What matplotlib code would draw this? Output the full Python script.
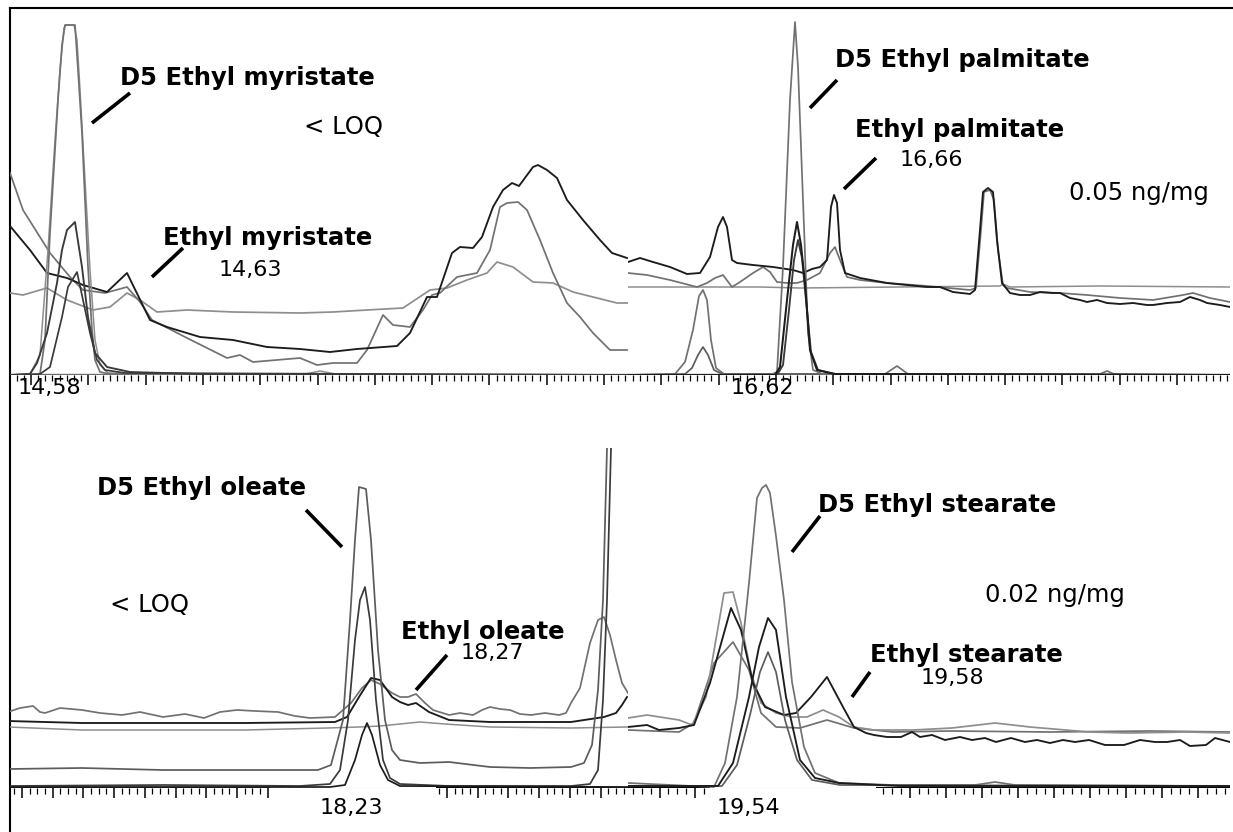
import numpy as np
import matplotlib
matplotlib.use('Agg')
import matplotlib.pyplot as plt
from matplotlib.ticker import FixedLocator, NullFormatter

# ── DATA (retention time in min, abundance in arbitrary units) ────────────────
# top-left: ethyl myristate window
TL_D5_BIG_T = [14.520, 14.540, 14.550, 14.555, 14.560, 14.565, 14.568, 14.572, 14.575, 14.585,
               14.588, 14.592, 14.595, 14.598, 14.602, 14.605, 14.610, 14.620, 14.700, 15.138]
TL_D5_BIG_A = [0, 0, 1, 35, 142, 225, 275, 330, 350, 350, 305, 242, 175, 108, 45, 15, 3, 1, 0, 0]
TL_D5_BIG2_T = [14.520, 14.540, 14.550, 14.558, 14.565, 14.570, 14.574, 14.576, 14.584, 14.587,
                14.590, 14.595, 14.600, 14.605, 14.610, 14.618, 14.700, 15.138]
TL_D5_BIG2_A = [0, 1, 20, 125, 235, 305, 347, 350, 350, 335, 285, 195, 105, 35, 10, 2, 0, 0]
TL_D5_MID_T = [14.520, 14.540, 14.547, 14.557, 14.567, 14.572, 14.577, 14.585, 14.592, 14.598,
               14.605, 14.617, 14.640, 14.710, 15.138]
TL_D5_MID_A = [0, 1, 12, 42, 92, 125, 145, 153, 108, 58, 22, 8, 3, 1, 0]
TL_D5_SMALL_T = [14.520, 14.550, 14.560, 14.572, 14.578, 14.587, 14.593, 14.600, 14.607, 14.615, 14.635, 15.138]
TL_D5_SMALL_A = [0, 1, 8, 58, 88, 103, 75, 42, 15, 5, 2, 0]
TL_BASE_T = [14.520, 14.810, 14.820, 14.830, 14.840, 14.850, 15.138]
TL_BASE_A = [0, 0, 2, 4, 2, 0, 0]
TL_BLACK_T = [14.520, 14.540, 14.557, 14.577, 14.593, 14.617, 14.637, 14.660, 14.677, 14.710,
              14.743, 14.777, 14.810, 14.840, 14.867, 14.907, 14.920, 14.937, 14.947, 14.962,
              14.970, 14.983, 14.992, 15.003, 15.013, 15.022, 15.029, 15.043, 15.048, 15.057,
              15.067, 15.077, 15.093, 15.110, 15.122, 15.137]
TL_BLACK_A = [149, 125, 102, 97, 90, 83, 102, 55, 48, 38, 35, 28, 26, 23, 26, 29, 42, 78, 78, 122,
              128, 127, 138, 168, 185, 192, 189, 208, 210, 205, 197, 175, 155, 135, 122, 117]
TL_GRAY_T = [14.520, 14.533, 14.560, 14.580, 14.593, 14.615, 14.637, 14.650, 14.662, 14.697,
             14.737, 14.750, 14.763, 14.810, 14.827, 14.843, 14.867, 14.877, 14.893, 14.903,
             14.920, 14.933, 14.942, 14.950, 14.967, 14.987, 15.000, 15.010, 15.017, 15.028,
             15.037, 15.050, 15.063, 15.077, 15.090, 15.103, 15.120, 15.137]
TL_GRAY_A = [202, 165, 122, 98, 85, 82, 88, 73, 55, 37, 17, 20, 13, 17, 10, 12, 12, 25, 60, 50,
             48, 65, 80, 82, 98, 102, 125, 168, 172, 173, 165, 135, 102, 72, 58, 42, 25, 25]
TL_LIGHT_T = [14.520, 14.533, 14.557, 14.577, 14.603, 14.620, 14.637, 14.650, 14.667, 14.697,
              14.743, 14.810, 14.843, 14.877, 14.913, 14.940, 14.957, 14.977, 14.997, 15.007,
              15.023, 15.043, 15.063, 15.083, 15.103, 15.127, 15.138]
TL_LIGHT_A = [82, 80, 87, 75, 65, 68, 82, 75, 63, 65, 63, 62, 63, 65, 67, 85, 87, 95, 102, 113,
              108, 93, 92, 83, 78, 72, 72]

# top-right: ethyl palmitate window
TR_BLACK_T = [16.451, 16.463, 16.476, 16.493, 16.510, 16.523, 16.533, 16.541, 16.546, 16.550,
              16.555, 16.560, 16.576, 16.596, 16.616, 16.626, 16.635, 16.643, 16.650, 16.654,
              16.657, 16.660, 16.663, 16.668, 16.683, 16.710, 16.730, 16.750, 16.763, 16.776,
              16.793, 16.798, 16.803, 16.806, 16.811, 16.816, 16.820, 16.825, 16.833, 16.843,
              16.853, 16.863, 16.876, 16.883, 16.893, 16.903, 16.910, 16.920, 16.930, 16.943,
              16.956, 16.970, 16.976, 16.990, 17.003, 17.013, 17.023, 17.030, 17.043, 17.053]
TR_BLACK_A = [113, 117, 113, 108, 101, 102, 118, 148, 158, 148, 115, 112, 110, 108, 105, 102, 106, 108, 115, 168,
              180, 172, 125, 102, 97, 92, 90, 88, 88, 83, 81, 85, 145, 183, 187, 183, 135, 92, 82, 80,
              80, 83, 82, 82, 77, 75, 73, 75, 72, 71, 72, 70, 70, 72, 73, 78, 75, 72, 70, 68]
TR_GRAY_T = [16.451, 16.470, 16.493, 16.520, 16.530, 16.538, 16.546, 16.555, 16.563, 16.576,
             16.586, 16.593, 16.600, 16.610, 16.620, 16.630, 16.643, 16.653, 16.658, 16.663,
             16.670, 16.683, 16.710, 16.750, 16.793, 16.799, 16.804, 16.807, 16.813, 16.817,
             16.821, 16.826, 16.830, 16.853, 16.883, 16.910, 16.943, 16.976, 17.006, 17.016,
             17.033, 17.053]
TR_GRAY_A = [102, 100, 95, 88, 92, 97, 100, 88, 93, 102, 108, 103, 93, 92, 92, 95, 102, 122, 128, 115,
             98, 95, 92, 89, 85, 87, 145, 183, 185, 175, 125, 90, 87, 83, 82, 80, 77, 75, 80, 82, 77, 73]
TR_LIGHT_T = [16.451, 16.523, 16.583, 16.623, 16.723, 16.823, 16.826, 16.833, 16.923, 17.053]
TR_LIGHT_A = [88, 88, 88, 87, 88, 89, 91, 88, 89, 88]
TR_D5_TALL_T = [16.451, 16.593, 16.600, 16.606, 16.613, 16.618, 16.621, 16.626, 16.631, 16.636, 16.648, 17.053]
TR_D5_TALL_A = [0, 0, 3, 108, 275, 353, 308, 175, 42, 5, 0, 0]
TR_D5_DARK_T = [16.451, 16.598, 16.603, 16.610, 16.616, 16.620, 16.624, 16.628, 16.633, 16.640, 16.658, 17.053]
TR_D5_DARK_A = [0, 0, 8, 75, 130, 153, 130, 92, 25, 5, 1, 0]
TR_D5_DARK2_T = [16.451, 16.600, 16.606, 16.612, 16.617, 16.621, 16.625, 16.629, 16.634, 16.641, 16.658, 17.053]
TR_D5_DARK2_A = [0, 0, 10, 65, 115, 135, 117, 75, 23, 5, 1, 0]
TR_SMALL_T = [16.451, 16.498, 16.508, 16.516, 16.522, 16.526, 16.530, 16.534, 16.539, 16.547,
              16.708, 16.720, 16.731, 16.923, 16.930, 16.937, 17.053]
TR_SMALL_A = [0, 1, 13, 45, 79, 85, 75, 35, 7, 1, 1, 9, 1, 1, 4, 1, 0]
TR_SMALL2_T = [16.451, 16.508, 16.515, 16.521, 16.526, 16.531, 16.537, 16.545, 17.053]
TR_SMALL2_A = [0, 1, 7, 20, 28, 20, 5, 1, 0]

# bottom-left: ethyl oleate window
BL_NOISY_T = [17.875, 17.887, 17.900, 17.907, 17.912, 17.927, 17.949, 17.967, 17.989, 18.007,
              18.030, 18.052, 18.071, 18.087, 18.104, 18.122, 18.145, 18.162, 18.177, 18.202,
              18.218, 18.229, 18.238, 18.247, 18.259, 18.267, 18.275, 18.283, 18.292, 18.300,
              18.316, 18.327, 18.340, 18.349, 18.357, 18.367, 18.377, 18.387, 18.398, 18.412,
              18.426, 18.433, 18.438, 18.447, 18.457, 18.465, 18.471, 18.477, 18.483, 18.489, 18.495]
BL_NOISY_A = [76, 80, 82, 76, 75, 80, 78, 75, 73, 76, 71, 74, 70, 76, 78, 77, 76, 72, 70, 71,
              85, 100, 108, 104, 95, 91, 91, 94, 85, 78, 73, 75, 73, 78, 81, 79, 78, 74, 73, 75,
              73, 75, 85, 100, 145, 168, 171, 153, 128, 105, 95]
BL_BLACK_T = [17.875, 17.949, 18.030, 18.112, 18.202, 18.214, 18.226, 18.238, 18.247, 18.259,
              18.267, 18.275, 18.283, 18.296, 18.316, 18.357, 18.438, 18.471, 18.483, 18.489, 18.494]
BL_BLACK_A = [67, 65, 65, 65, 66, 71, 91, 110, 108, 91, 86, 83, 85, 76, 68, 66, 66, 71, 75, 83, 91]
BL_LIGHT_T = [17.875, 17.949, 18.030, 18.112, 18.194, 18.226, 18.247, 18.267, 18.287, 18.312, 18.357, 18.438, 18.495]
BL_LIGHT_A = [61, 58, 58, 58, 60, 61, 62, 64, 66, 64, 61, 60, 61]
BL_D5_T = [17.875, 17.949, 18.030, 18.112, 18.185, 18.198, 18.210, 18.217, 18.222, 18.226,
           18.233, 18.238, 18.245, 18.252, 18.259, 18.267, 18.287, 18.316, 18.357, 18.397,
           18.438, 18.451, 18.459, 18.465, 18.470, 18.474, 18.476]
BL_D5_A = [19, 20, 18, 18, 18, 23, 68, 168, 248, 301, 299, 248, 138, 68, 38, 28, 25, 26, 21, 20,
           21, 25, 43, 98, 188, 340, 420]
BL_MID_T = [17.875, 18.030, 18.167, 18.197, 18.207, 18.215, 18.222, 18.227, 18.232, 18.237,
            18.243, 18.250, 18.257, 18.267, 18.316, 18.438, 18.457, 18.465, 18.470, 18.474, 18.478, 18.480]
BL_MID_A = [2, 3, 2, 4, 18, 68, 148, 188, 201, 168, 88, 28, 10, 4, 2, 2, 4, 18, 88, 188, 340, 420]
BL_LOW_T = [17.875, 18.197, 18.212, 18.222, 18.229, 18.234, 18.239, 18.247, 18.255, 18.267, 18.495]
BL_LOW_A = [1, 1, 3, 28, 53, 65, 53, 23, 8, 2, 1]

# bottom-right: ethyl stearate window
BR_TALL_T = [19.402, 19.488, 19.499, 19.511, 19.523, 19.531, 19.536, 19.540, 19.544, 19.550,
             19.558, 19.566, 19.578, 19.589, 19.613, 19.667, 19.749, 19.769, 19.789, 20.004]
BR_TALL_A = [5, 1, 25, 91, 205, 290, 300, 303, 295, 252, 188, 106, 41, 15, 5, 3, 3, 6, 3, 2]
BR_PEAK_T = [19.402, 19.492, 19.507, 19.523, 19.533, 19.542, 19.550, 19.560, 19.574, 19.589, 19.613, 19.674, 20.004]
BR_PEAK_A = [2, 2, 25, 91, 141, 170, 158, 91, 28, 10, 5, 2, 2]
BR_PEAK2_T = [19.402, 19.496, 19.511, 19.524, 19.534, 19.542, 19.550, 19.559, 19.571, 19.586, 19.614, 20.004]
BR_PEAK2_A = [2, 2, 23, 73, 116, 136, 116, 68, 28, 8, 3, 2]
BR_LIGHT_T = [19.402, 19.421, 19.453, 19.466, 19.480, 19.498, 19.507, 19.515, 19.525, 19.535,
              19.550, 19.566, 19.581, 19.597, 19.613, 19.628, 19.648, 19.687, 19.726, 19.769,
              19.804, 19.863, 19.902, 19.960, 20.004]
BR_LIGHT_A = [70, 73, 68, 63, 91, 195, 196, 165, 115, 85, 75, 71, 71, 78, 71, 61, 58, 58, 60, 65,
              61, 56, 55, 56, 55]
BR_BLACK_T = [19.402, 19.421, 19.433, 19.453, 19.468, 19.484, 19.505, 19.515, 19.527, 19.539,
              19.558, 19.570, 19.585, 19.601, 19.617, 19.628, 19.640, 19.648, 19.661, 19.675,
              19.686, 19.694, 19.706, 19.719, 19.734, 19.746, 19.759, 19.770, 19.785, 19.799,
              19.811, 19.824, 19.837, 19.849, 19.863, 19.879, 19.898, 19.914, 19.929, 19.941,
              19.954, 19.964, 19.980, 19.989, 20.004]
BR_BLACK_A = [61, 63, 58, 60, 63, 105, 180, 158, 105, 81, 73, 75, 91, 111, 81, 61, 55, 53, 51, 51,
              56, 51, 53, 48, 51, 48, 50, 46, 50, 46, 48, 45, 48, 46, 48, 43, 43, 48, 46, 46,
              48, 42, 43, 50, 46]
BR_GRAY_T = [19.402, 19.453, 19.468, 19.488, 19.507, 19.523, 19.535, 19.550, 19.574, 19.601,
             19.628, 19.667, 19.724, 19.824, 19.924, 20.004]
BR_GRAY_A = [58, 56, 65, 125, 146, 118, 75, 61, 60, 68, 60, 56, 57, 56, 57, 56]

# ── STYLE ─────────────────────────────────────────────────────────────────────
W, H = 1233, 832
BLACK, DARK, MID, GRAY, LIGHT = '#1c1c1c', '#3a3a3a', '#5c5c5c', '#717171', '#8e8e8e'
plt.rcParams['font.family'] = ['DejaVu Sans']


def rect(x0, y0, x1, y1):
    return [x0 / W, 1 - y1 / H, (x1 - x0) / W, (y1 - y0) / H]


def panel(fig, r, xlim, ylim):
    ax = fig.add_axes(r)
    ax.set_xlim(*xlim)
    ax.set_ylim(*ylim)
    ax.axis('off')
    ax.patch.set_alpha(0)
    return ax


def leader(ax, xs, ys):
    ax.plot(xs, ys, color='black', lw=2.6, solid_capstyle='butt', clip_on=False)


def ruler(fig, y, segments, color_gap='#c4c4c4'):
    ax = fig.add_axes(rect(0, y - 20, W, y))
    ax.set_xlim(0, W)
    ax.set_ylim(0, 1)
    for s in ax.spines.values():
        s.set_visible(False)
    ax.patch.set_alpha(0)
    ax.set_yticks([])
    majors, minors = [], []
    ax.hlines(0, 10, 1230, color=color_gap, lw=0.8)
    for x0, x1, first, step, nminor in segments:
        ax.hlines(0, x0, x1, color='black', lw=1.6)
        majors += [m for m in np.arange(first, x1, step) if x0 <= m <= x1]
        minors += [m for m in np.arange(first - step, x1, step / nminor) if x0 <= m <= x1]
    ax.xaxis.set_major_locator(FixedLocator(majors))
    ax.xaxis.set_minor_locator(FixedLocator(minors))
    ax.xaxis.set_major_formatter(NullFormatter())
    ax.tick_params(axis='x', which='major', direction='out', length=7, width=1.1, color='black')
    ax.tick_params(axis='x', which='minor', direction='out', length=4, width=0.9, color='black')
    return ax


fig = plt.figure(figsize=(W / 100, H / 100), dpi=100)

# outer frame (left + top)
frame = fig.add_axes(rect(10, 8, 1260, 860))
frame.set_xticks([])
frame.set_yticks([])
frame.patch.set_alpha(0)
frame.spines['right'].set_visible(False)
frame.spines['bottom'].set_visible(False)
for side in ('left', 'top'):
    frame.spines[side].set_linewidth(1.5)

ruler(fig, 375, [(10, 1230, 31, 57.3, 8)])
ruler(fig, 788, [(10, 270, 22, 30.7, 4), (436, 628, 447, 30.7, 4),
                 (628, 710, 624, 35.5, 4), (876, 1230, 874, 36, 4)])

BOLD = dict(fontsize=17.5, fontweight='bold', ha='center', va='center')
NOTE = dict(fontsize=17.5, ha='center', va='center')
NUM = dict(fontsize=16, ha='center', va='center')

# ── TOP LEFT ──────────────────────────────────────────────────────────────────
ax = panel(fig, rect(10, 8, 628, 375), (14.520, 15.138), (0, 367))
ax.plot(TL_BASE_T, TL_BASE_A, color=LIGHT, lw=1.1)
ax.plot(TL_LIGHT_T, TL_LIGHT_A, color=LIGHT, lw=1.25)
ax.plot(TL_GRAY_T, TL_GRAY_A, color=GRAY, lw=1.25)
ax.plot(TL_BLACK_T, TL_BLACK_A, color=BLACK, lw=1.35)
ax.plot(TL_D5_BIG2_T, TL_D5_BIG2_A, color=LIGHT, lw=1.1)
ax.plot(TL_D5_BIG_T, TL_D5_BIG_A, color=GRAY, lw=1.25)
ax.plot(TL_D5_SMALL_T, TL_D5_SMALL_A, color=DARK, lw=1.25)
ax.plot(TL_D5_MID_T, TL_D5_MID_A, color=DARK, lw=1.35)
ax.text(14.757, 297, 'D5 Ethyl myristate', **BOLD)
ax.text(14.778, 137, 'Ethyl myristate', **BOLD)
ax.text(14.760, 105, '14,63', **NUM)
ax.text(14.854, 248, '< LOQ', **NOTE)
ax.text(14.559, -13, '14,58', **NUM)
leader(ax, [14.602, 14.640], [252, 282])
leader(ax, [14.662, 14.693], [98, 127])

# ── TOP RIGHT ─────────────────────────────────────────────────────────────────
ax = panel(fig, rect(628, 8, 1230, 375), (16.451, 17.053), (0, 367))
ax.plot(TR_LIGHT_T, TR_LIGHT_A, color=LIGHT, lw=1.1)
ax.plot(TR_SMALL_T, TR_SMALL_A, color=GRAY, lw=1.25)
ax.plot(TR_SMALL2_T, TR_SMALL2_A, color=MID, lw=1.25)
ax.plot(TR_GRAY_T, TR_GRAY_A, color=GRAY, lw=1.25)
ax.plot(TR_BLACK_T, TR_BLACK_A, color=BLACK, lw=1.35)
ax.plot(TR_D5_TALL_T, TR_D5_TALL_A, color=GRAY, lw=1.25)
ax.plot(TR_D5_DARK2_T, TR_D5_DARK2_A, color=DARK, lw=1.35)
ax.plot(TR_D5_DARK_T, TR_D5_DARK_A, color=BLACK, lw=1.45)
ax.text(16.785, 315, 'D5 Ethyl palmitate', **BOLD)
ax.text(16.783, 245, 'Ethyl palmitate', **BOLD)
ax.text(16.754, 215, '16,66', **NUM)
ax.text(16.962, 182, '0.05 ng/mg', **NOTE)
ax.text(16.585, -13, '16,62', **NUM)
leader(ax, [16.633, 16.660], [267, 295])
leader(ax, [16.667, 16.699], [186, 217])

# ── BOTTOM LEFT ───────────────────────────────────────────────────────────────
ax = panel(fig, rect(10, 448, 628, 788), (17.877, 18.495), (0, 340))
ax.plot(BL_LIGHT_T, BL_LIGHT_A, color=LIGHT, lw=1.1)
ax.plot(BL_NOISY_T, BL_NOISY_A, color=GRAY, lw=1.25)
ax.plot(BL_BLACK_T, BL_BLACK_A, color=BLACK, lw=1.35)
ax.plot(BL_D5_T, BL_D5_A, color=MID, lw=1.25)
ax.plot(BL_MID_T, BL_MID_A, color=DARK, lw=1.25)
ax.plot(BL_LOW_T, BL_LOW_A, color=BLACK, lw=1.25)
ax.text(18.068, 300, 'D5 Ethyl oleate', **BOLD)
ax.text(18.350, 156, 'Ethyl oleate', **BOLD)
ax.text(18.359, 135, '18,27', **NUM)
ax.text(18.017, 183, '< LOQ', **NOTE)
ax.text(18.218, -20, '18,23', **NUM)
leader(ax, [18.173, 18.209], [278, 241])
leader(ax, [18.283, 18.314], [98, 133])

# ── BOTTOM RIGHT ──────────────────────────────────────────────────────────────
ax = panel(fig, rect(628, 448, 1230, 788), (19.402, 20.004), (0, 340))
ax.plot(BR_GRAY_T, BR_GRAY_A, color=GRAY, lw=1.25)
ax.plot(BR_LIGHT_T, BR_LIGHT_A, color=LIGHT, lw=1.25)
ax.plot(BR_BLACK_T, BR_BLACK_A, color=BLACK, lw=1.35)
ax.plot(BR_TALL_T, BR_TALL_A, color=GRAY, lw=1.25)
ax.plot(BR_PEAK2_T, BR_PEAK2_A, color=MID, lw=1.25)
ax.plot(BR_PEAK_T, BR_PEAK_A, color=BLACK, lw=1.35)
ax.text(19.711, 283, 'D5 Ethyl stearate', **BOLD)
ax.text(19.740, 133, 'Ethyl stearate', **BOLD)
ax.text(19.726, 110, '19,58', **NUM)
ax.text(19.829, 193, '0.02 ng/mg', **NOTE)
ax.text(19.522, -20, '19,54', **NUM)
leader(ax, [19.566, 19.594], [236, 272])
leader(ax, [19.626, 19.644], [91, 116])

fig.savefig('out.png', dpi=100)
plt.close(fig)
